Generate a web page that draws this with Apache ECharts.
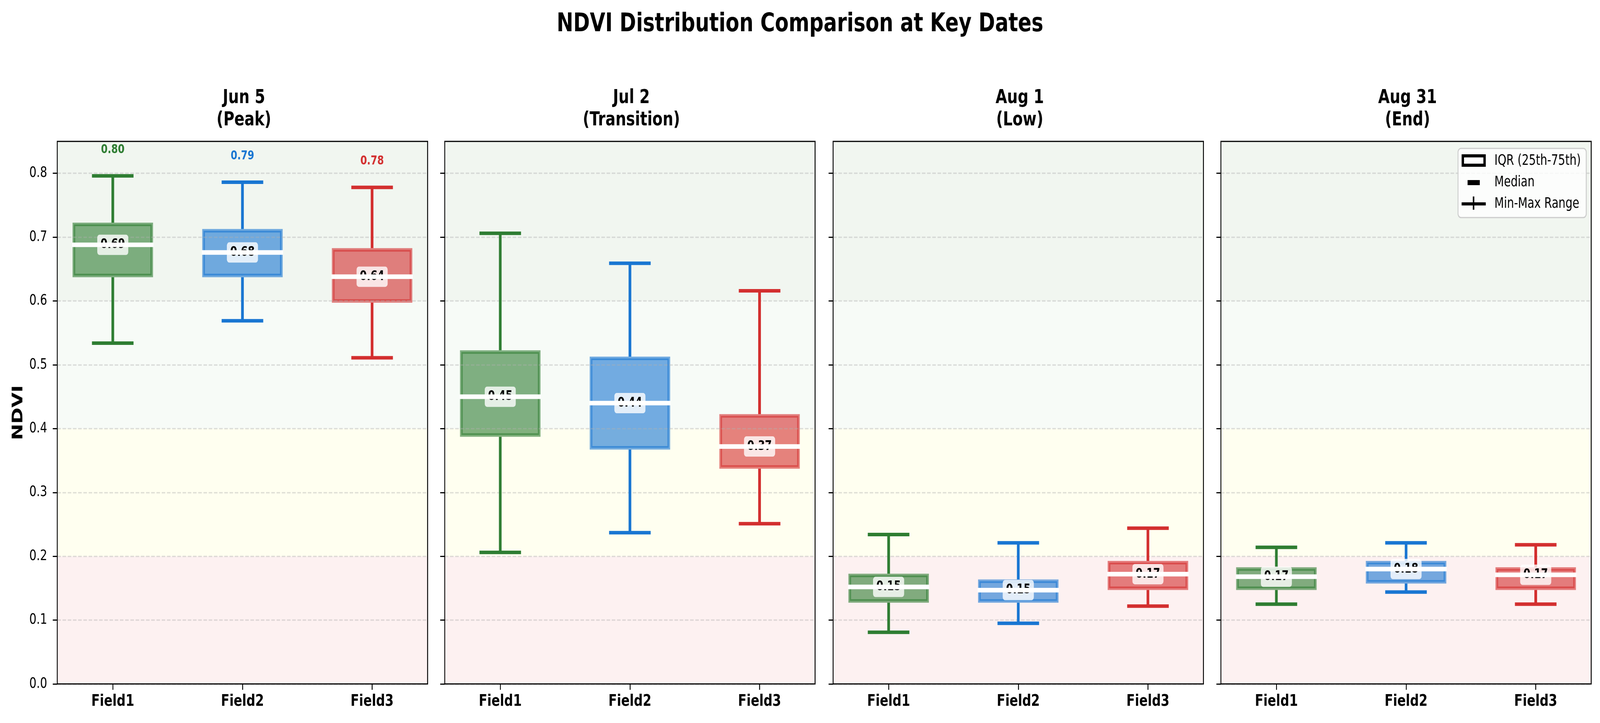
<!DOCTYPE html>
<html><head><meta charset="utf-8">
<script src="https://cdn.jsdelivr.net/npm/echarts@6/dist/echarts.min.js"></script>
<style>html,body{margin:0;padding:0;background:#fff;overflow:hidden}#c{width:5364px;height:1851px;transform-origin:0 0}</style>
</head><body><div id="c"></div>
<script>
// ---- data ----
const categories = ['Field1', 'Field2', 'Field3'];
const dateLabels = ['Jun 5', 'Jul 2', 'Aug 1', 'Aug 31'];
const phaseLabels = ['Peak', 'Transition', 'Low', 'End'];
// per date: [Field1, Field2, Field3]
const minVals = [
  [0.534, 0.569, 0.511],
  [0.206, 0.237, 0.251],
  [0.081, 0.095, 0.122],
  [0.125, 0.144, 0.125]
];
const q1Vals = [
  [0.640, 0.640, 0.600],
  [0.390, 0.370, 0.340],
  [0.130, 0.130, 0.150],
  [0.150, 0.160, 0.150]
];
const medianVals = [
  [0.688, 0.676, 0.638],
  [0.450, 0.440, 0.372],
  [0.152, 0.147, 0.172],
  [0.168, 0.180, 0.171]
];
const q3Vals = [
  [0.720, 0.710, 0.680],
  [0.520, 0.510, 0.420],
  [0.170, 0.161, 0.190],
  [0.180, 0.190, 0.180]
];
const maxVals = [
  [0.796, 0.786, 0.778],
  [0.706, 0.659, 0.616],
  [0.234, 0.221, 0.244],
  [0.214, 0.221, 0.218]
];
const showMaxLabels = [true, false, false, false];
const bandRanges = [[0, 0.2], [0.2, 0.4], [0.4, 0.6], [0.6, 0.85]];
const yTicks = [0, 0.1, 0.2, 0.3, 0.4, 0.5, 0.6, 0.7, 0.8];
const legendLabels = ['IQR (25th-75th)', 'Median', 'Min-Max Range'];

// ---- styles / layout ----
const fieldColors = ['#2e7d32', '#1976d2', '#d32f2f'];
const bandColors = ['#fdf1f1', '#fffff0', '#f7fbf7', '#f1f6f0'];
const FONT = 'DejaVu Sans';
const W0 = 5364, H0 = 1851;
const dom = document.getElementById('c');
// fit the fixed-size figure into whatever viewport the page is opened in
const fitX = (window.innerWidth || W0) / W0, fitY = (window.innerHeight || H0) / H0;
if (Math.abs(fitX - 1) > 0.002 || Math.abs(fitY - 1) > 0.002) {
  dom.style.transform = 'scale(' + fitX + ',' + fitY + ')';
}
const chart = echarts.init(dom, null, { width: W0, height: H0 });
const gridLefts = [192, 1491, 2793, 4093];
const gridWidth = 1241.5, gridTop = 362, gridHeight = 1389;

function rgba(hex, a) {
  const n = parseInt(hex.slice(1), 16);
  return 'rgba(' + ((n >> 16) & 255) + ',' + ((n >> 8) & 255) + ',' + (n & 255) + ',' + a + ')';
}

function boxGeom(api) {
  const x = api.value(0);
  return {
    cx: api.coord([x, api.value(3)])[0],
    yMin: api.coord([x, api.value(1)])[1], yQ1: api.coord([x, api.value(2)])[1],
    yMd: api.coord([x, api.value(3)])[1], yQ3: api.coord([x, api.value(4)])[1],
    yMax: api.coord([x, api.value(5)])[1],
    bw: api.size([0.6, 0])[0], cw: api.size([0.3, 0])[0]
  };
}

// IQR boxes (drawn below the grid lines)
function renderBoxRect(params, api) {
  const c = fieldColors[params.dataIndex];
  const g = boxGeom(api);
  return { type: 'rect', shape: { x: g.cx - g.bw / 2, y: g.yQ3, width: g.bw, height: g.yQ1 - g.yQ3 },
    style: { fill: rgba(c, 0.6), stroke: rgba(c, 0.6), lineWidth: 9 } };
}

// whiskers, caps, median label and median line (drawn above the grid lines)
function makeOverlayRender(pi) {
  return function (params, api) {
    const c = fieldColors[params.dataIndex];
    const g = boxGeom(api);
    const md = api.value(3), mx = api.value(5);
    const children = [
      { type: 'line', shape: { x1: g.cx, y1: g.yQ1 + 4.5, x2: g.cx, y2: g.yMin }, style: { stroke: c, lineWidth: 9 } },
      { type: 'line', shape: { x1: g.cx, y1: g.yQ3 - 4.5, x2: g.cx, y2: g.yMax }, style: { stroke: c, lineWidth: 9 } },
      { type: 'line', shape: { x1: g.cx - g.cw / 2, y1: g.yMin, x2: g.cx + g.cw / 2, y2: g.yMin }, style: { stroke: c, lineWidth: 9, lineCap: 'square' } },
      { type: 'line', shape: { x1: g.cx - g.cw / 2, y1: g.yMax, x2: g.cx + g.cw / 2, y2: g.yMax }, style: { stroke: c, lineWidth: 9, lineCap: 'square' } },
      { type: 'text', x: g.cx, y: g.yMd, style: { text: md.toFixed(2), fill: '#000', fontSize: 33.3, fontWeight: 'bold', fontFamily: FONT, align: 'center', verticalAlign: 'middle', backgroundColor: 'rgba(255,255,255,0.8)', padding: [10, 11, 9, 11], borderRadius: 8 } },
      { type: 'line', shape: { x1: g.cx - g.bw / 2, y1: g.yMd, x2: g.cx + g.bw / 2, y2: g.yMd }, style: { stroke: '#fff', lineWidth: 11.7, lineCap: 'square' } }
    ];
    if (showMaxLabels[pi]) {
      children.push({ type: 'text', x: g.cx, y: g.yMax - 67, style: { text: mx.toFixed(2), fill: c, fontSize: 32, fontWeight: 'bold', fontFamily: FONT, align: 'center', verticalAlign: 'middle' } });
    }
    return { type: 'group', children: children };
  };
}

function renderBand(params, api) {
  const cs = params.coordSys;
  const lo = api.value(0), hi = api.value(1);
  const yTop = api.coord([0, hi])[1], yBot = api.coord([0, lo])[1];
  return { type: 'rect', shape: { x: cs.x, y: yTop, width: cs.width, height: yBot - yTop }, style: { fill: bandColors[params.dataIndex] } };
}

const grids = [], xAxes = [], yAxes = [], series = [], titles = [];
titles.push({ text: 'NDVI Distribution Comparison at Key Dates', left: 'center', top: 24,
  textStyle: { fontFamily: FONT, fontWeight: 'bold', fontSize: 66.7, color: '#000', lineHeight: 67 } });

for (let p = 0; p < 4; p++) {
  grids.push({ left: gridLefts[p], top: gridTop, width: gridWidth, height: gridHeight, show: true,
    borderColor: '#000', borderWidth: 3, backgroundColor: 'transparent', z: 10 });
  xAxes.push({ type: 'value', gridIndex: p, min: -0.428, max: 2.428, z: 3,
    axisLine: { show: false, onZero: false },
    axisTick: { show: true, length: 15, customValues: [0, 1, 2], lineStyle: { color: '#000', width: 3 } },
    axisLabel: { show: true, customValues: [0, 1, 2], margin: 24, formatter: v => categories[Math.round(v)],
      fontFamily: FONT, fontWeight: 'bold', fontSize: 41.7, color: '#000' },
    splitLine: { show: false } });
  yAxes.push({ type: 'value', gridIndex: p, min: 0, max: 0.85, interval: 0.1, z: 3,
    name: p === 0 ? 'NDVI' : '', nameLocation: 'middle', nameGap: 105, nameRotate: 90,
    nameTextStyle: { fontFamily: FONT, fontWeight: 'bold', fontSize: 50, color: '#000' },
    axisLine: { show: false, onZero: false },
    axisTick: { show: true, length: 15, customValues: yTicks, lineStyle: { color: '#000', width: 3 } },
    axisLabel: { show: p === 0, customValues: yTicks, margin: 34, formatter: v => v.toFixed(1),
      fontFamily: FONT, fontSize: 37.5, color: '#000' },
    splitLine: { show: true, lineStyle: { color: 'rgba(176,176,176,0.4)', width: 3.3, type: [12, 5.5] } } });
  series.push({ type: 'custom', xAxisIndex: p, yAxisIndex: p, z: 1, silent: true,
    renderItem: renderBand, data: bandRanges, encode: { x: -1, y: [0, 1] } });
  const boxData = categories.map((c, i) => [i, minVals[p][i], q1Vals[p][i], medianVals[p][i], q3Vals[p][i], maxVals[p][i]]);
  series.push({ type: 'custom', name: dateLabels[p] + ' IQR', xAxisIndex: p, yAxisIndex: p, z: 2,
    renderItem: renderBoxRect, data: boxData, encode: { x: 0, y: [1, 2, 3, 4, 5] } });
  series.push({ type: 'custom', name: dateLabels[p], xAxisIndex: p, yAxisIndex: p, z: 5,
    renderItem: makeOverlayRender(p), data: boxData, encode: { x: 0, y: [1, 2, 3, 4, 5] } });
  titles.push({ text: dateLabels[p] + '\n(' + phaseLabels[p] + ')', left: gridLefts[p] + gridWidth / 2, top: 218,
    textAlign: 'center',
    textStyle: { fontFamily: FONT, fontWeight: 'bold', fontSize: 50, color: '#000', lineHeight: 57, align: 'center' } });
}

// legend (upper right of the last panel)
const lx = 4888, ly = 380;
const graphic = [
  { type: 'rect', shape: { x: lx, y: ly, width: 430, height: 177, r: 10 }, style: { fill: 'rgba(255,255,255,0.8)', stroke: '#cccccc', lineWidth: 3 }, z: 20 },
  { type: 'rect', shape: { x: lx + 16, y: ly + 19, width: 73, height: 24 }, style: { fill: '#fff', stroke: '#000', lineWidth: 8 }, z: 21 },
  { type: 'rect', shape: { x: lx + 32, y: ly + 81, width: 41, height: 13 }, style: { fill: '#000' }, z: 21 },
  { type: 'line', shape: { x1: lx + 12, y1: ly + 142, x2: lx + 93, y2: ly + 142 }, style: { stroke: '#000', lineWidth: 8 }, z: 21 },
  { type: 'line', shape: { x1: lx + 52, y1: ly + 123, x2: lx + 52, y2: ly + 157 }, style: { stroke: '#000', lineWidth: 5 }, z: 21 }
];
legendLabels.forEach((t, k) => {
  graphic.push({ type: 'text', x: lx + 122, y: ly + 32 + k * 55, z: 21,
    style: { text: t, fill: '#000', fontFamily: FONT, fontSize: 37, verticalAlign: 'middle', align: 'left' } });
});

chart.setOption({
  backgroundColor: '#fff',
  animation: false,
  title: titles,
  grid: grids,
  xAxis: xAxes,
  yAxis: yAxes,
  series: series,
  graphic: graphic
});
</script></body></html>
